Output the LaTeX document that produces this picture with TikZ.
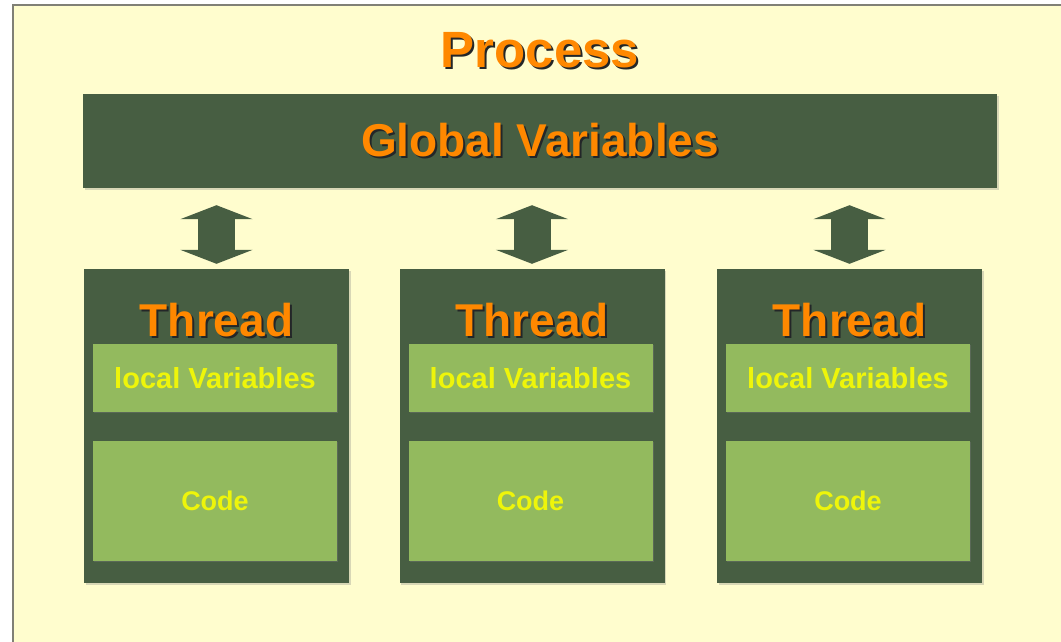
\documentclass[tikz,border=0pt]{standalone}
\usepackage{fontspec}
\setmainfont{Liberation Sans}
\usetikzlibrary{arrows.meta,shadows}

\definecolor{paper}{RGB}{255,253,206}
\definecolor{darkgreen}{RGB}{71,94,66}
\definecolor{lightgreen}{RGB}{147,186,94}
\definecolor{titleorange}{RGB}{255,136,0}
\definecolor{txtyellow}{RGB}{238,245,10}
\definecolor{txtshadow}{RGB}{35,38,40}
\definecolor{framegray}{RGB}{128,128,118}

% orange text with a dark drop shadow
\newcommand{\shtext}[1]{\rlap{\kern2pt\raisebox{-2pt}{\color{txtshadow}#1}}#1}

\tikzset{
  darkbox/.style={fill=darkgreen, inner sep=0pt,
    drop shadow={shadow xshift=1.5pt, shadow yshift=-1.5pt, opacity=0.3}},
  lightbox/.style={fill=lightgreen, inner sep=0pt, minimum width=244pt,
    text=txtyellow, font=\bfseries\fontsize{27}{30}\selectfont,
    drop shadow={shadow xshift=1pt, shadow yshift=-1pt, opacity=0.35}},
  titletext/.style={anchor=base, text=titleorange, font=\bfseries\fontsize{46}{50}\selectfont},
  bigarrow/.style={darkgreen, line width=37pt,
    {Triangle[length=14pt, width=72pt]}-{Triangle[length=14pt, width=72pt]}}
}

\begin{document}
\begin{tikzpicture}[x=1pt, y=-1pt]
    \useasboundingbox (0,0) rectangle (1061,641);
    \clip (0,0) rectangle (1061,641);

    % Background sheet
    \fill[white] (0,0) rectangle (1061,641);
    \fill[paper] (13,5) rectangle (1080,660);
    \draw[framegray, line width=2pt] (13,5) rectangle (1080,660);

    % Title
    \node[anchor=base, text=titleorange, font=\bfseries\fontsize{51}{55}\selectfont]
        (proc) at (540,67) {\shtext{Process}};

    % Global variables
    \node[darkbox, minimum width=914pt, minimum height=94pt, text=titleorange,
        font=\bfseries\fontsize{46}{50}\selectfont] (gv) at (540,141) {\shtext{Global Variables}};

    % Threads
    \foreach \i/\x in {1/216.5, 2/532, 3/849.5} {
        \node[darkbox, minimum width=265pt, minimum height=314pt] (t\i) at (\x,426) {};
        \node[titletext] (title\i) at (\x,336) {\shtext{Thread}};
        \node[lightbox, minimum height=68pt, font=\bfseries\fontsize{29}{32}\selectfont]
            (lv\i) at (\x-1.5,378) {local Variables};
        \node[lightbox, minimum height=120pt] (code\i) at (\x-1.5,501) {Code};
        \draw[bigarrow, shorten <=17pt, shorten >=5pt] (gv.south -| t\i.north) -- (t\i.north);
    }
\end{tikzpicture}
\end{document}
